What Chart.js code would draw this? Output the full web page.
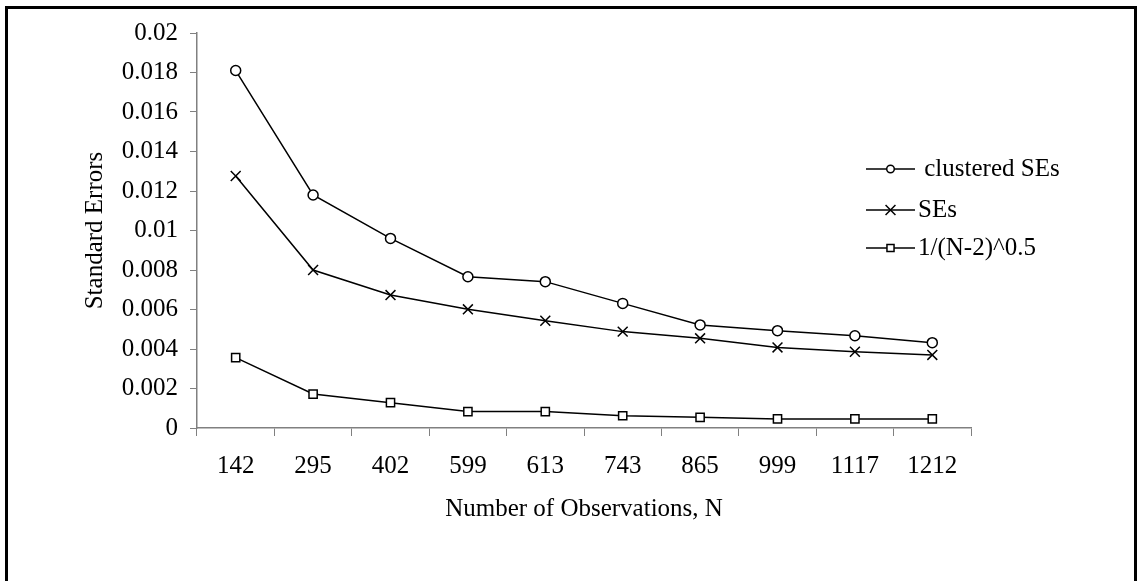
<!DOCTYPE html>
<html>
<head>
<meta charset="utf-8">
<script src="https://cdn.jsdelivr.net/npm/chart.js@4"></script>
<style>
  html, body { margin: 0; padding: 0; background: #fff; overflow: hidden; }
  #wrap { position: relative; width: 1138px; height: 581px; }
  #frame { position: absolute; left: 5px; top: 6px; width: 1126px; height: 640px; border: 3px solid #000; box-sizing: content-box; }
  canvas { position: absolute; left: 0; top: 0; }
</style>
</head>
<body>
<div id="wrap">
  <div id="frame"></div>
  <canvas id="c" width="1138" height="581"></canvas>
</div>
<script>
const categories = ["142", "295", "402", "599", "613", "743", "865", "999", "1117", "1212"];
const clusteredSEs = [0.0181, 0.0118, 0.0096, 0.00766, 0.00741, 0.00631, 0.00522, 0.00493, 0.00467, 0.00432];
const plainSEs = [0.01276, 0.0080, 0.00673, 0.00601, 0.00543, 0.00488, 0.00454, 0.00408, 0.00386, 0.0037];
const invSqrt = [0.00356, 0.00172, 0.00128, 0.00083, 0.00083, 0.00062, 0.00054, 0.00046, 0.00046, 0.00046];
const seriesNames = [" clustered SEs", "SEs", "1/(N-2)^0.5"];
const yTicks = { min: 0, max: 0.02, step: 0.002 };
const xTitle = "Number of Observations, N";
const yTitle = "Standard Errors";

const FONT = "'Liberation Serif', 'Times New Roman', serif";
const FS = 25;

function ds(label, data, style, radius) {
  return {
    label, data,
    borderColor: '#000', borderWidth: 1.5,
    pointStyle: style, pointRadius: radius, pointHoverRadius: radius,
    pointBackgroundColor: '#fff', pointBorderColor: '#000', pointBorderWidth: 1.5,
    tension: 0, fill: false
  };
}

const legendPlugin = {
  id: 'customLegend',
  afterDraw(chart) {
    const ctx = chart.ctx;
    const rows = [
      { y: 169, ds: chart.data.datasets[0], r: 3.8 },
      { y: 210, ds: chart.data.datasets[1], r: 7 },
      { y: 248, ds: chart.data.datasets[2], r: 5 }
    ];
    ctx.save();
    rows.forEach(row => {
      ctx.strokeStyle = '#000';
      ctx.lineWidth = 1.5;
      ctx.beginPath();
      ctx.moveTo(866, row.y);
      ctx.lineTo(915, row.y);
      ctx.stroke();
      ctx.fillStyle = '#fff';
      ctx.strokeStyle = '#000';
      Chart.helpers.drawPoint(ctx, { pointStyle: row.ds.pointStyle, radius: row.r, borderWidth: 1.5, rotation: 0 }, 890.5, row.y);
      ctx.fillStyle = '#000';
      ctx.font = FS + "px " + FONT;
      ctx.textBaseline = 'middle';
      ctx.textAlign = 'left';
      ctx.fillText(row.ds.label, 918, row.y);
    });
    ctx.restore();
  }
};

new Chart(document.getElementById('c'), {
  type: 'line',
  data: {
    labels: categories,
    datasets: [
      ds(seriesNames[0], clusteredSEs, 'circle', 5),
      ds(seriesNames[1], plainSEs, 'crossRot', 7),
      ds(seriesNames[2], invSqrt, 'rect', 5.8)
    ]
  },
  options: {
    responsive: false,
    animation: false,
    devicePixelRatio: 1,
    layout: { padding: { left: 71, right: 167, top: 33, bottom: 53 } },
    plugins: { legend: { display: false }, tooltip: { enabled: false } },
    scales: {
      x: {
        type: 'category',
        offset: true,
        grid: { display: true, drawOnChartArea: false, offset: true, color: '#808080', tickLength: 8, lineWidth: 1 },
        border: { display: true, color: '#808080', width: 1.5 },
        ticks: { color: '#000', font: { family: FONT, size: FS }, padding: 15, maxRotation: 0, autoSkip: false },
        title: { display: true, text: xTitle, color: '#000', font: { family: FONT, size: FS }, padding: { top: 0, bottom: 4 } },
        afterFit(scale) { scale.height = 100; }
      },
      y: {
        min: yTicks.min, max: yTicks.max,
        grid: { display: true, drawOnChartArea: false, color: '#808080', tickLength: 7, lineWidth: 1 },
        border: { display: true, color: '#808080', width: 1.5 },
        ticks: {
          stepSize: yTicks.step, color: '#000', font: { family: FONT, size: FS }, padding: 12,
          callback: v => String(+Number(v).toFixed(3))
        },
        title: { display: true, text: yTitle, color: '#000', font: { family: FONT, size: FS }, padding: { top: 9, bottom: 0 } },
        afterFit(scale) { scale.width = 126; }
      }
    }
  },
  plugins: [legendPlugin]
});
</script>
</body>
</html>
